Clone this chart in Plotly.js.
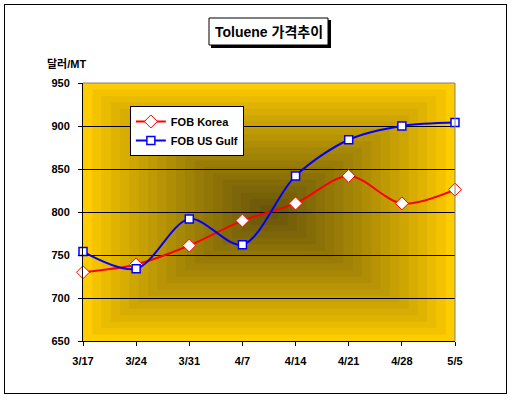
<!DOCTYPE html>
<html>
<head>
<meta charset="utf-8">
<script src="https://cdn.plot.ly/plotly-3.0.1.min.js"></script>
<style>
html,body{margin:0;padding:0;background:#fff;}
#wrap{position:relative;width:511px;height:402px;}
#chart{position:absolute;left:0;top:0;width:511px;height:402px;}
#frame{position:absolute;left:4px;top:4px;width:501px;height:388px;border:1px solid #000;pointer-events:none;}
</style>
</head>
<body>
<div id="wrap"><div id="chart"></div><div id="frame"></div></div>
<script>
// Data
const categories = ["3/17","3/24","3/31","4/7","4/14","4/21","4/28","5/5"];
const fobKorea   = [730, 739, 761, 790, 810, 842, 810, 826];
const fobUSGulf  = [754, 734, 792, 762, 842, 884, 900, 904];
const seriesNames = ["FOB Korea","FOB US Gulf"];
const yTicks = [650, 700, 750, 800, 850, 900, 950];

const FONT = '"Liberation Sans", Arial, "Noto Sans CJK KR", sans-serif';

// plot area pixel geometry (for paper-coordinate styling shapes)
const PL=83, PR=455, PT=83, PB=341;
const px=v=>(v-PL)/(PR-PL), py=v=>(PB-v)/(PB-PT);

// rectangular "from center" gradient background (styling)
function lerp(a,b,t){return Math.round(a+(b-a)*t);}
const edge=[255,204,0], center=[104,86,10];
const shapes=[];
const N=20;
for(let i=0;i<N;i++){
  const f=i/N*0.5;
  const t=Math.pow(i/(N-1),0.85);
  const c=`rgb(${lerp(edge[0],center[0],t)},${lerp(edge[1],center[1],t)},${lerp(edge[2],center[2],t)})`;
  shapes.push({type:'rect',xref:'x domain',yref:'y domain',x0:f,x1:1-f,y0:f,y1:1-f,
    fillcolor:c,line:{width:0},layer:'below'});
}
// gray plot border top/right
shapes.push({type:'line',xref:'x domain',yref:'y domain',x0:0,x1:1,y0:1,y1:1,line:{color:'#808080',width:1},layer:'above'});
shapes.push({type:'line',xref:'x domain',yref:'y domain',x0:1,x1:1,y0:0,y1:1,line:{color:'#808080',width:1},layer:'above'});
// title box with shadow
shapes.push({type:'rect',xref:'paper',yref:'paper',x0:px(211),x1:px(331),y0:py(48),y1:py(20),fillcolor:'#000',line:{width:0},layer:'above'});
shapes.push({type:'rect',xref:'paper',yref:'paper',x0:px(209),x1:px(328),y0:py(45),y1:py(18),fillcolor:'#FFF',line:{color:'#000',width:1},layer:'above'});

const traces=[
  {x:categories,y:fobKorea,name:seriesNames[0],type:'scatter',mode:'lines+markers',
   line:{color:'#FF0000',width:2,shape:'spline',smoothing:0.9},
   marker:{symbol:'diamond',size:10,color:'#FFFFFF',line:{color:'#FF0000',width:1}},cliponaxis:false},
  {x:categories,y:fobUSGulf,name:seriesNames[1],type:'scatter',mode:'lines+markers',
   line:{color:'#0000FF',width:2,shape:'spline',smoothing:0.9},
   marker:{symbol:'square',size:8,color:'#FFFFFF',line:{color:'#0000FF',width:1.5}},cliponaxis:false}
];

const titleText='Toluene 가격추이';
const layout={
  width:511,height:402,
  margin:{l:83,r:56,t:83,b:61},
  paper_bgcolor:'#FFFFFF',plot_bgcolor:'#FFCC00',
  font:{family:FONT,size:11,color:'#000'},
  showlegend:true,
  legend:{x:0.126,y:0.911,xanchor:'left',yanchor:'top',bgcolor:'#FFFFFF',
    bordercolor:'#000',borderwidth:1,font:{family:FONT,size:11,color:'#000',weight:'bold'},
    tracegroupgap:0,itemwidth:30},
  xaxis:{type:'category',range:[0,7],showgrid:false,showline:true,linecolor:'#000',linewidth:1,
    ticks:'outside',ticklen:4,tickcolor:'#000',zeroline:false,
    tickfont:{family:FONT,size:11,weight:'bold'},ticklabelstandoff:6},
  yaxis:{range:[650,950],tickvals:yTicks,showgrid:true,gridcolor:'#000',gridwidth:1,
    showline:true,linecolor:'#000',linewidth:1,ticks:'outside',ticklen:4,tickcolor:'#000',
    zeroline:false,tickfont:{family:FONT,size:11,weight:'bold'},ticklabelstandoff:6},
  shapes:shapes,
  annotations:[
    {xref:'paper',yref:'paper',x:px(268.5),y:py(31.5),xanchor:'center',yanchor:'middle',
     text:titleText,showarrow:false,
     font:{family:FONT,size:14,color:'#000',weight:'bold'}},
    {xref:'paper',yref:'paper',x:px(45),y:py(64),xanchor:'left',yanchor:'middle',
     text:'달러/MT',showarrow:false,font:{family:FONT,size:11,color:'#000',weight:'bold'}}
  ]
};
Plotly.newPlot('chart',traces,layout,{displayModeBar:false,staticPlot:true});
</script>
</body>
</html>
